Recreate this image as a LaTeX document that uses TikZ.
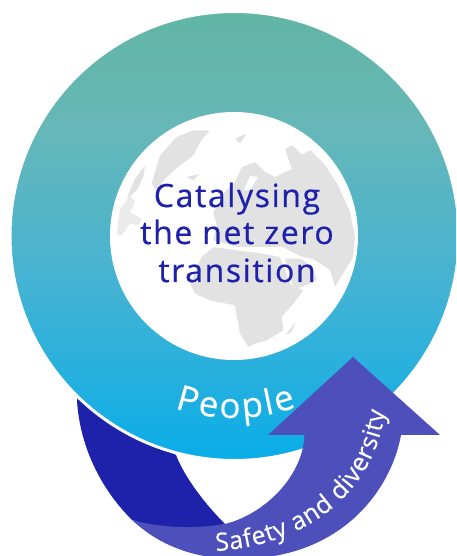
\documentclass[tikz,border=0pt]{standalone}
\usepackage{fontspec}
\setmainfont{Open Sans}
\newfontfamily\medfont[FakeBold=0.6]{Open Sans}
\newfontfamily\lightbold[FakeBold=0.3]{Open Sans}
\usetikzlibrary{decorations.text}
\definecolor{darkb}{HTML}{1E22AA}
\definecolor{arrowb}{HTML}{4D4FBB}
\definecolor{land}{HTML}{E2E2E2}
\definecolor{ring1}{HTML}{62B6A4}
\definecolor{ring2}{HTML}{66B7B8}
\definecolor{ring3}{HTML}{45B3D3}
\definecolor{ring4}{HTML}{09ADE8}
\pgfdeclareverticalshading{ringshade}{100bp}{
  color(0bp)=(ring4); color(25bp)=(ring4); color(45bp)=(ring3); color(62bp)=(ring2); color(75bp)=(ring1); color(100bp)=(ring1)}
\tikzset{
  globeland/.style={fill=land,draw=none,rounded corners=1pt},
  headtext/.style={text=darkb,font=\medfont\fontsize{32}{32}\selectfont\addfontfeature{LetterSpace=5},anchor=base},
}
\begin{document}
\begin{tikzpicture}[x=1pt,y=1pt]
\clip (0,0) rectangle (456,556);
% dark tail
\fill[darkb] (77,160) -- (77,155) .. controls (80,110) and (100,68) .. (132,36)
   -- (180,20) -- (225,32) .. controls (205,52) and (185,78) .. (176,101) -- cycle;
% ring
\path[shading=ringshade,shade,draw=white,line width=3pt] (234.5,320) circle[radius=224.5];
% arrow
\fill[arrowb] (353,199) -- (440,121) -- (401,121)
  .. controls (392,70) and (345,-3) .. (238,-3)
  .. controls (195,-3) and (160,10) .. (132,36)
  .. controls (160,28) and (195,27) .. (225,32)
  .. controls (265,42) and (303,80) .. (304.5,121)
  -- (268,121) -- cycle;
% inner disc
\fill[white] (234,320) circle[radius=124];
% land, crop A (origin 110,112)
\begin{scope}[x=0.3333pt,y=-0.3333pt,shift={(330,-1332)}]
\fill[globeland] (150,130) -- (200,75) -- (250,55) -- (300,55) -- (270,90) -- (250,130) -- (210,160) -- (170,195) -- (140,235) -- (125,215) -- cycle;
\fill[globeland] (75,200) -- (105,160) -- (100,195) -- (80,235) -- (50,260) -- cycle;
\fill[land!70!white] (20,370) -- (30,290) -- (60,250) -- (75,270) -- (60,300) -- (95,320) -- (85,340) -- (60,335) -- (35,370) -- cycle;
\fill[globeland] (230,195) -- (270,185) -- (250,205) -- cycle;
\end{scope}
% land, crop B (origin 235,112)
\begin{scope}[x=0.3333pt,y=-0.3333pt,shift={(705,-1332)}]
\fill[globeland] (0,80) -- (35,65) -- (15,95) -- cycle;
\end{scope}
% Eurasia in reference pixels
\begin{scope}[x=1pt,y=-1pt,shift={(0,-556)}]
\fill[globeland] (225,192) -- (235,182) -- (242,167) -- (255,162) -- (265,172) -- (275,177) -- (292,169) -- (285,149) -- (292,145) -- (302,155) -- (310,150) -- (325,165) -- (338,185) -- (350,212) -- (355,237) -- (353,257) -- (347,267) -- (335,287) -- (330,270) -- (313,259) -- (302,257) -- (283,247) -- (237,247) -- (213,240) -- (217,225) -- (213,213) -- cycle;
\fill[white] (250,176) -- (258,177) -- (250,190) -- (244,190) -- cycle;
\end{scope}
% land, crop C (origin 170,237)
\begin{scope}[x=0.3333pt,y=-0.3333pt,shift={(510,-957)}]
\fill[globeland] (60,140) -- (95,60) -- (130,30) -- (200,40) -- (280,50) -- (330,60) -- (360,140) -- (400,160) -- (370,200) -- (335,240) -- (340,280) -- (290,310) -- (255,320) -- (235,330) -- (210,290) -- (200,235) -- (195,205) -- (120,190) -- (75,170) -- cycle;
\fill[globeland] (345,65) -- (395,65) -- (430,95) -- (440,130) -- (395,150) -- (372,155) -- cycle;
\fill[globeland] (345,295) -- (378,255) -- (365,285) -- cycle;
\end{scope}
% texts
\node[headtext] (t1) at (237,349) {Catalysing};
\node[headtext] (t2) at (237,312) {the net zero};
\node[headtext] (t3) at (237,274) {transition};
\path[decorate,decoration={text along path,text align={fit to path},
  text={|\lightbold\fontsize{35}{35}\selectfont\color{white}|People}}]
  (234,320) ++(251:182) arc[start angle=251,end angle=290,radius=182];
\path[decorate,decoration={text along path,text align={fit to path},
  text={|\lightbold\fontsize{25}{25}\selectfont\color{white}|Safety and diversity}}]
  (216,5) .. controls (310,11) and (375,66) .. (385,145);
\end{tikzpicture}
\end{document}
